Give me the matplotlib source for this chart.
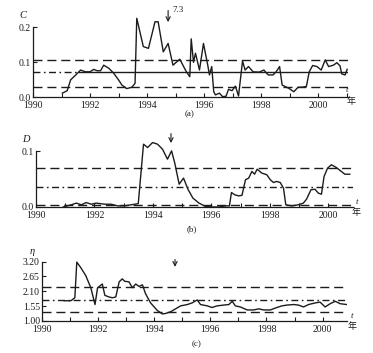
import matplotlib
matplotlib.use('Agg')
import matplotlib.pyplot as plt

plt.rcParams['font.family'] = ['Liberation Serif', 'Noto Sans CJK SC']
plt.rcParams['lines.scale_dashes'] = False

# panel (a): C
yr_a = [1991.03, 1991.20, 1991.32, 1991.50, 1991.67, 1991.84, 1992.00, 1992.13, 1992.25, 1992.37,
        1992.48, 1992.66, 1992.83, 1993.00, 1993.12, 1993.29, 1993.47, 1993.58, 1993.64, 1993.87,
        1994.05, 1994.28, 1994.39, 1994.57, 1994.74, 1994.91, 1995.15, 1995.38, 1995.50, 1995.55,
        1995.63, 1995.70, 1995.84, 1995.98, 1996.13, 1996.19, 1996.27, 1996.34, 1996.40, 1996.54,
        1996.65, 1996.77, 1996.86, 1996.98, 1997.10, 1997.21, 1997.35, 1997.44, 1997.56, 1997.72,
        1997.93, 1998.10, 1998.25, 1998.42, 1998.53, 1998.65, 1998.74, 1998.97, 1999.15, 1999.30,
        1999.44, 1999.59, 1999.69, 1999.81, 1999.96, 2000.11, 2000.25, 2000.37, 2000.54, 2000.66,
        2000.77, 2000.83, 2000.95, 2001.02]
C_vals = [0.011, 0.018, 0.049, 0.063, 0.077, 0.072, 0.072, 0.079, 0.075, 0.075,
          0.091, 0.082, 0.068, 0.049, 0.034, 0.024, 0.028, 0.039, 0.225, 0.144,
          0.139, 0.215, 0.215, 0.129, 0.153, 0.091, 0.108, 0.072, 0.058, 0.166,
          0.099, 0.125, 0.077, 0.153, 0.091, 0.063, 0.087, 0.015, 0.006, 0.011,
          0.001, 0.002, 0.022, 0.018, 0.031, 0.003, 0.103, 0.077, 0.087, 0.072,
          0.071, 0.077, 0.063, 0.063, 0.072, 0.087, 0.034, 0.025, 0.015, 0.028,
          0.028, 0.030, 0.072, 0.090, 0.087, 0.077, 0.106, 0.087, 0.091, 0.098,
          0.089, 0.066, 0.063, 0.079]
C_upper, C_mean, C_lower = 0.106, 0.072, 0.030

# panel (b): D
yr_b = [1990.93, 1991.21, 1991.38, 1991.55, 1991.72, 1991.89, 1992.06, 1992.35, 1992.57, 1992.80,
        1993.03, 1993.26, 1993.50, 1993.68, 1993.82, 1993.99, 1994.16, 1994.33, 1994.50, 1994.64,
        1994.75, 1994.90, 1995.05, 1995.20, 1995.37, 1995.58, 1995.80, 1996.03, 1996.26, 1996.49,
        1996.62, 1996.69, 1996.80, 1996.94, 1997.05, 1997.17, 1997.28, 1997.39, 1997.48, 1997.57,
        1997.73, 1997.90, 1998.02, 1998.13, 1998.24, 1998.36, 1998.47, 1998.55, 1998.75, 1998.98,
        1999.15, 1999.26, 1999.41, 1999.55, 1999.66, 1999.77, 1999.86, 1999.98, 2000.11, 2000.28,
        2000.45, 2000.57, 2000.74]
D_vals = [0.000, 0.004, 0.007, 0.004, 0.008, 0.005, 0.007, 0.005, 0.005, 0.002,
          0.002, 0.004, 0.006, 0.113, 0.107, 0.116, 0.113, 0.104, 0.086, 0.101,
          0.079, 0.041, 0.052, 0.032, 0.016, 0.007, 0.001, 0.000, 0.000, 0.002,
          0.002, 0.026, 0.022, 0.020, 0.021, 0.049, 0.052, 0.064, 0.059, 0.068,
          0.061, 0.058, 0.049, 0.044, 0.046, 0.044, 0.034, 0.004, 0.002, 0.004,
          0.007, 0.014, 0.031, 0.032, 0.025, 0.023, 0.055, 0.070, 0.076, 0.071,
          0.064, 0.059, 0.059]
D_upper, D_mean, D_lower = 0.070, 0.036, 0.003

# panel (c): eta
yr_c = [1990.79, 1991.03, 1991.17, 1991.24, 1991.38, 1991.56, 1991.74, 1991.89, 1991.98, 1992.15,
        1992.24, 1992.39, 1992.51, 1992.63, 1992.75, 1992.86, 1992.95, 1993.10, 1993.22, 1993.34,
        1993.46, 1993.58, 1993.69, 1993.87, 1994.11, 1994.29, 1994.41, 1994.58, 1994.76, 1994.94,
        1995.18, 1995.35, 1995.53, 1995.65, 1995.89, 1996.06, 1996.24, 1996.48, 1996.66, 1996.78,
        1996.89, 1997.07, 1997.31, 1997.55, 1997.72, 1997.90, 1998.14, 1998.37, 1998.55, 1998.73,
        1998.97, 1999.14, 1999.32, 1999.50, 1999.74, 1999.91, 2000.09, 2000.27, 2000.45, 2000.63,
        2000.86]
eta_vals = [1.75, 1.75, 1.86, 3.18, 2.98, 2.68, 2.23, 1.61, 2.23, 2.37,
            1.95, 1.89, 1.86, 1.89, 2.45, 2.56, 2.47, 2.45, 2.23, 2.37,
            2.28, 2.34, 2.01, 1.67, 1.39, 1.26, 1.28, 1.34, 1.45, 1.56,
            1.61, 1.67, 1.78, 1.61, 1.56, 1.50, 1.56, 1.59, 1.61, 1.73,
            1.56, 1.52, 1.41, 1.41, 1.45, 1.41, 1.41, 1.50, 1.56, 1.59,
            1.61, 1.59, 1.52, 1.61, 1.67, 1.70, 1.52, 1.64, 1.73, 1.64,
            1.61]
eta_upper, eta_mean, eta_lower = 2.25, 1.79, 1.33

W, H = 373, 353
INK = '#1c1c1c'
DASH = (0, (6.5, 3.5))
DASHDOT = (0, (5, 2.5, 1.2, 2.5))
ARROW = dict(arrowstyle='->,head_length=0.3,head_width=0.15', lw=0.8, color=INK)


def box(left, right, top, bottom):
    return [left / W, 1 - bottom / H, (right - left) / W, (bottom - top) / H]


def px(x, y):
    return x / W, 1 - y / H


def style(ax, x_end, ylim, ytop, yticks, ylabels):
    ax.set_xlim(1990, x_end)
    ax.set_ylim(*ylim)
    for s in ['top', 'right']:
        ax.spines[s].set_visible(False)
    ax.spines['left'].set_bounds(ylim[0], ytop)
    for s in ['left', 'bottom']:
        ax.spines[s].set_linewidth(0.9)
        ax.spines[s].set_color(INK)
    ax.set_xticks(list(range(1990, 2001, 2)))
    ax.set_xticklabels([str(y) for y in range(1990, 2001, 2)])
    ax.set_xticks([y for y in range(1991, 2002, 2) if y <= x_end], minor=True)
    ax.set_yticks(yticks)
    ax.set_yticklabels(ylabels)
    ax.tick_params(which='both', direction='in', length=3, width=0.8, colors=INK, labelsize=7)
    ax.tick_params(axis='x', pad=3.2)
    ax.tick_params(axis='y', pad=1.5)
    ax.patch.set_alpha(0)


fig = plt.figure(figsize=(W / 100, H / 100), dpi=100)

# (a)
ax1 = fig.add_axes(box(33, 348, 16.5, 97))
style(ax1, 2001.05, (0, 0.23), 0.2, [0, 0.1, 0.2], ['0.0', '0.1', '0.2'])
ax1.axhline(C_upper, color=INK, lw=1.0, ls=DASH)
ax1.axhline(C_lower, color=INK, lw=1.0, ls=DASH)
ax1.plot([1990, 1991.6], [C_mean, C_mean], color=INK, lw=1.0, ls=DASHDOT)
ax1.plot([1991.6, 2001.05], [C_mean, C_mean], color=INK, lw=1.0)
ax1.plot(yr_a, C_vals, color=INK, lw=1.0, clip_on=False)
ax1.annotate('', xy=(1994.74, 0.206), xytext=(1994.74, 0.255), arrowprops=ARROW,
             annotation_clip=False)
ax1.text(1994.88, 0.243, '7.3', fontsize=6.5, color=INK)

# (b)
ax2 = fig.add_axes(box(36, 353, 140.3, 207))
style(ax2, 2000.85, (0, 0.12), 0.1, [0, 0.1], ['0.0', '0.1'])
ax2.axhline(D_upper, color=INK, lw=1.0, ls=DASH)
ax2.axhline(D_mean, color=INK, lw=1.0, ls=DASHDOT)
ax2.axhline(D_lower, color=INK, lw=1.0, ls=DASH)
ax2.plot(yr_b, D_vals, color=INK, lw=1.0)
ax2.annotate('', xy=(1994.62, 0.110), xytext=(1994.62, 0.137), arrowprops=ARROW,
             annotation_clip=False)

# (c)
ax3 = fig.add_axes(box(42, 347, 258.9, 321))
style(ax3, 2000.87, (1.0, 3.3), 3.2, [1.00, 1.55, 2.10, 2.65, 3.20],
      ['1.00', '1.55', '2.10', '2.65', '3.20'])
ax3.axhline(eta_upper, color=INK, lw=1.0, ls=DASH)
ax3.axhline(eta_mean, color=INK, lw=1.0, ls=DASHDOT)
ax3.axhline(eta_lower, color=INK, lw=1.0, ls=DASH)
ax3.plot(yr_c, eta_vals, color=INK, lw=1.0)
ax3.annotate('', xy=(1994.74, 2.90), xytext=(1994.74, 3.38), arrowprops=ARROW,
             annotation_clip=False)

# axis names and captions
fig.text(*px(23, 15), 'C', fontsize=7.5, style='italic', ha='center', va='center', color=INK)
fig.text(*px(26, 140), 'D', fontsize=7.5, style='italic', ha='center', va='center', color=INK)
fig.text(*px(32, 252), 'η', fontsize=7.5, style='italic', ha='center', va='center', color=INK)
for x, y in [(347, 90), (357, 202), (352, 316)]:
    fig.text(*px(x, y), 't', fontsize=6.5, style='italic', ha='center', va='center', color=INK)
for x, y in [(351, 102), (356, 213), (352, 327)]:
    fig.text(*px(x, y), '年', fontsize=6.5, ha='center', va='center', color=INK)
for x, y, s in [(190, 114, '(a)'), (192, 229, '(b)'), (197, 344, '(c)')]:
    fig.text(*px(x, y), s, fontsize=6.5, ha='center', va='center', color=INK)

fig.savefig('out.png', dpi=100, facecolor='white')
